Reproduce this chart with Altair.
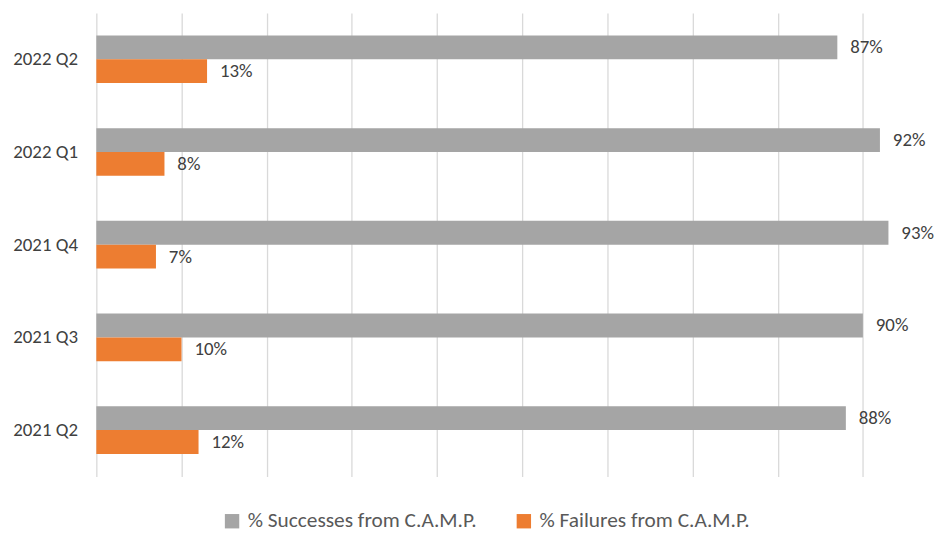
import altair as alt
import pandas as pd

quarters = ["2022 Q2", "2022 Q1", "2021 Q4", "2021 Q3", "2021 Q2"]
series_names = ["% Successes from C.A.M.P.", "% Failures from C.A.M.P."]
successes = [0.87, 0.92, 0.93, 0.90, 0.88]
failures = [0.13, 0.08, 0.07, 0.10, 0.12]
colors = ["#a5a5a5", "#ed7d31"]
grid_values = [0, 0.1, 0.2, 0.3, 0.4, 0.5, 0.6, 0.7, 0.8, 0.9]

rows = []
for q, s, f in zip(quarters, successes, failures):
    rows.append({"quarter": q, "series": series_names[0], "value": s})
    rows.append({"quarter": q, "series": series_names[1], "value": f})
df = pd.DataFrame(rows)

FONT = "Carlito, 'Liberation Sans Narrow', 'Open Sans'"
FS = 19

y_enc = alt.Y(
    "quarter:N",
    sort=quarters,
    scale=alt.Scale(paddingInner=0.486, paddingOuter=0.243),
    axis=alt.Axis(title=None, ticks=False, domain=False, grid=False, labelPadding=19,
                  labelFontSize=FS, labelColor="#404040", labelFont=FONT),
)
y_off = alt.YOffset("series:N", sort=series_names,
                    scale=alt.Scale(paddingInner=0, paddingOuter=0))
x_enc = alt.X(
    "value:Q",
    scale=alt.Scale(domain=[0, 0.98], nice=False),
    axis=alt.Axis(values=grid_values, labels=False, ticks=False, domain=False,
                  grid=True, gridColor="#d9d9d9", gridWidth=1.3, title=None),
)

bars = alt.Chart(df).mark_bar().encode(
    x=x_enc,
    y=y_enc,
    yOffset=y_off,
    color=alt.Color(
        "series:N",
        sort=series_names,
        scale=alt.Scale(domain=series_names, range=colors),
        legend=alt.Legend(orient="none", legendX=126, legendY=501,
                          direction="horizontal", symbolType="square",
                          symbolSize=210, symbolStrokeWidth=0,
                          labelFontSize=21.5, labelColor="#595959", labelFont=FONT,
                          labelLimit=400,
                          columnPadding=36, labelOffset=5, title=None),
    ),
)

labels = alt.Chart(df).mark_text(
    align="left", baseline="middle", dx=13, fontSize=FS, color="#404040", font=FONT
).encode(
    x=alt.X("value:Q"),
    y=alt.Y("quarter:N", sort=quarters),
    yOffset=alt.YOffset("series:N", sort=series_names),
    text=alt.Text("value:Q", format=".0%"),
)

chart = (
    alt.layer(bars, labels)
    .properties(
        width=841,
        height=467,
        background="white",
        autosize=alt.AutoSizeParams(type="none"),
        padding={"left": 89, "top": 3, "right": 4, "bottom": 55},
    )
    .configure_view(stroke=None, strokeWidth=0)
    .configure_axis(domain=False)
)

chart.save("out.html", embed_options={"renderer": "svg", "actions": False})
